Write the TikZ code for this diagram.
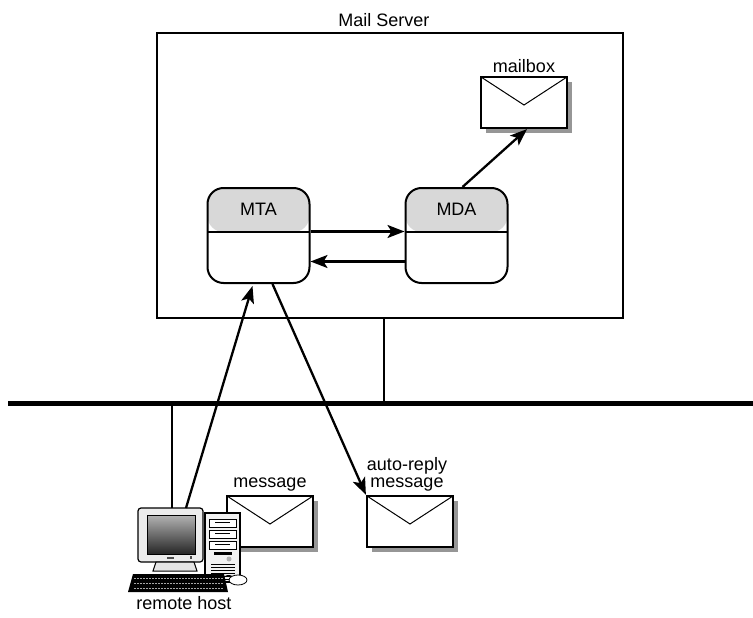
\documentclass[tikz,border=0pt]{standalone}
\usepackage{fontspec}
\setmainfont{Liberation Sans}
\usetikzlibrary{
    arrows.meta,
    calc,
    positioning,
    shadows
}
\definecolor{header}{RGB}{216,216,216}
\definecolor{shade}{RGB}{150,150,150}
\tikzset{
    txt/.style={font=\fontsize{18}{20}\selectfont},
    agent/.style={draw, line width=2pt, rounded corners=16pt, fill=white,
        minimum width=102pt, minimum height=95pt, inner sep=0pt,
        path picture={
            \fill[header] (path picture bounding box.north west)
                rectangle ([yshift=-44pt]path picture bounding box.north east);
            \draw[line width=2pt] ([yshift=-44pt]path picture bounding box.north west)
                -- ([yshift=-44pt]path picture bounding box.north east);
        }},
    envelope/.style={draw, line width=2.2pt, fill=white,
        minimum width=86pt, minimum height=51pt, inner sep=0pt,
        drop shadow={shadow xshift=5pt, shadow yshift=-5pt, fill=shade, opacity=1},
        path picture={
            \draw[line width=1pt] (path picture bounding box.north west)
                -- ([yshift=-28pt]path picture bounding box.north)
                -- (path picture bounding box.north east);
        }},
    flow/.style={line width=2.3pt, -{Stealth[length=17pt, width=13pt, inset=4pt]}},
    link/.style={line width=1.8pt}
}

\begin{document}
\begin{tikzpicture}[x=1pt, y=-1pt, txt]
    \useasboundingbox (0,0) rectangle (753,618);

    % Mail server with its two agents
    \node[draw, line width=2.2pt, minimum width=466pt, minimum height=285pt,
        label={[txt, label distance=2pt, xshift=-6pt]above:Mail Server}] (server) at (390,175.5) {};
    \node[agent] (mta) at (258.5,235.5) {};
    \node[txt] at ([yshift=-22pt]mta.north) {MTA};
    \node[agent] (mda) at (456.5,235.5) {};
    \node[txt] at ([yshift=-22pt]mda.north) {MDA};

    % Envelopes
    \node[envelope, label={[txt, label distance=0pt]above:mailbox}] (mailbox) at (524,102.5) {};
    \node[envelope, label={[txt, label distance=0pt]above:message}] (message) at (270,521.5) {};
    \node[envelope, label={[txt, align=center, label distance=0pt, xshift=-3pt]above:auto-reply\\[-3pt]message}] (reply) at (410,521.5) {};

    % Network backbone and taps
    \coordinate (netL) at (8,403);
    \coordinate (netR) at (753,403);
    \coordinate (srvtap) at (384,403);
    \coordinate (hosttap) at (172,403);
    \coordinate (host) at (172,508);
    \coordinate (hostout) at (186,508);
    \draw[line width=5pt] (netL) -- (netR);
    \draw[link] (srvtap |- server.south) -- (srvtap);
    \draw[link] (hosttap) -- (host);

    % Remote host: monitor
    \fill[gray!15, rounded corners=3pt] (138,508) rectangle (203,562);
    \draw[line width=1.2pt, rounded corners=3pt] (138,508) rectangle (203,562);
    \shade[top color=gray!60, bottom color=black!85, draw=black, line width=0.8pt]
        (147,515) rectangle (195,554);
    \fill[black!70] (167,557) rectangle (174,559);
    \fill[black!70] (190,556) rectangle (192,559);
    \draw[line width=1pt, fill=gray!20] (156,562) -- (194,562) -- (197,571) -- (153,571) -- cycle;
    % Remote host: tower
    \draw[line width=1.2pt, fill=gray!10] (205,513) rectangle (240,582);
    \foreach \y in {519,530,541} {
        \draw[line width=0.8pt, fill=white] (209,\y) rectangle (236,\y+8);
        \draw[line width=0.8pt] (215,\y+3) -- (230,\y+3);
    }
    \fill[black] (214,552) rectangle (232,555);
    \fill[gray!60] (229,559) circle (2.5pt);
    \foreach \y in {564,567,...,579} {
        \draw[line width=0.7pt] (211,\y) -- (235,\y);
    }
    % Remote host: keyboard and mouse
    \fill[black] (133,574) -- (224,574) -- (228,592) -- (128,592) -- cycle;
    \foreach \y in {578,583,588} {
        \draw[gray!70, line width=0.6pt, dash pattern=on 2pt off 1pt] (134,\y) -- (223,\y);
    }
    \draw[line width=0.8pt] (224,577) .. controls (228,574) and (232,576) .. (236,578);
    \draw[line width=0.8pt, fill=white] (238,580) ellipse (9pt and 5pt);
    \node[txt] (remote) at (184,603) {remote host};

    % Message flow
    \draw[flow] ($(mta.east)+(0,-4)$) -- ($(mda.west)+(0,-4)$);
    \draw[flow] ($(mda.west)+(0,26)$) -- ($(mta.east)+(0,26)$);
    \draw[flow] ($(mda.north)+(6,0)$) -- ($(mailbox.south)+(3,0)$);
    \draw[flow] (hostout) -- ($(mta.south)+(-6,2)$);
    \draw[flow] ($(mta.south)+(14,0)$) -- (reply.north west);
\end{tikzpicture}
\end{document}
